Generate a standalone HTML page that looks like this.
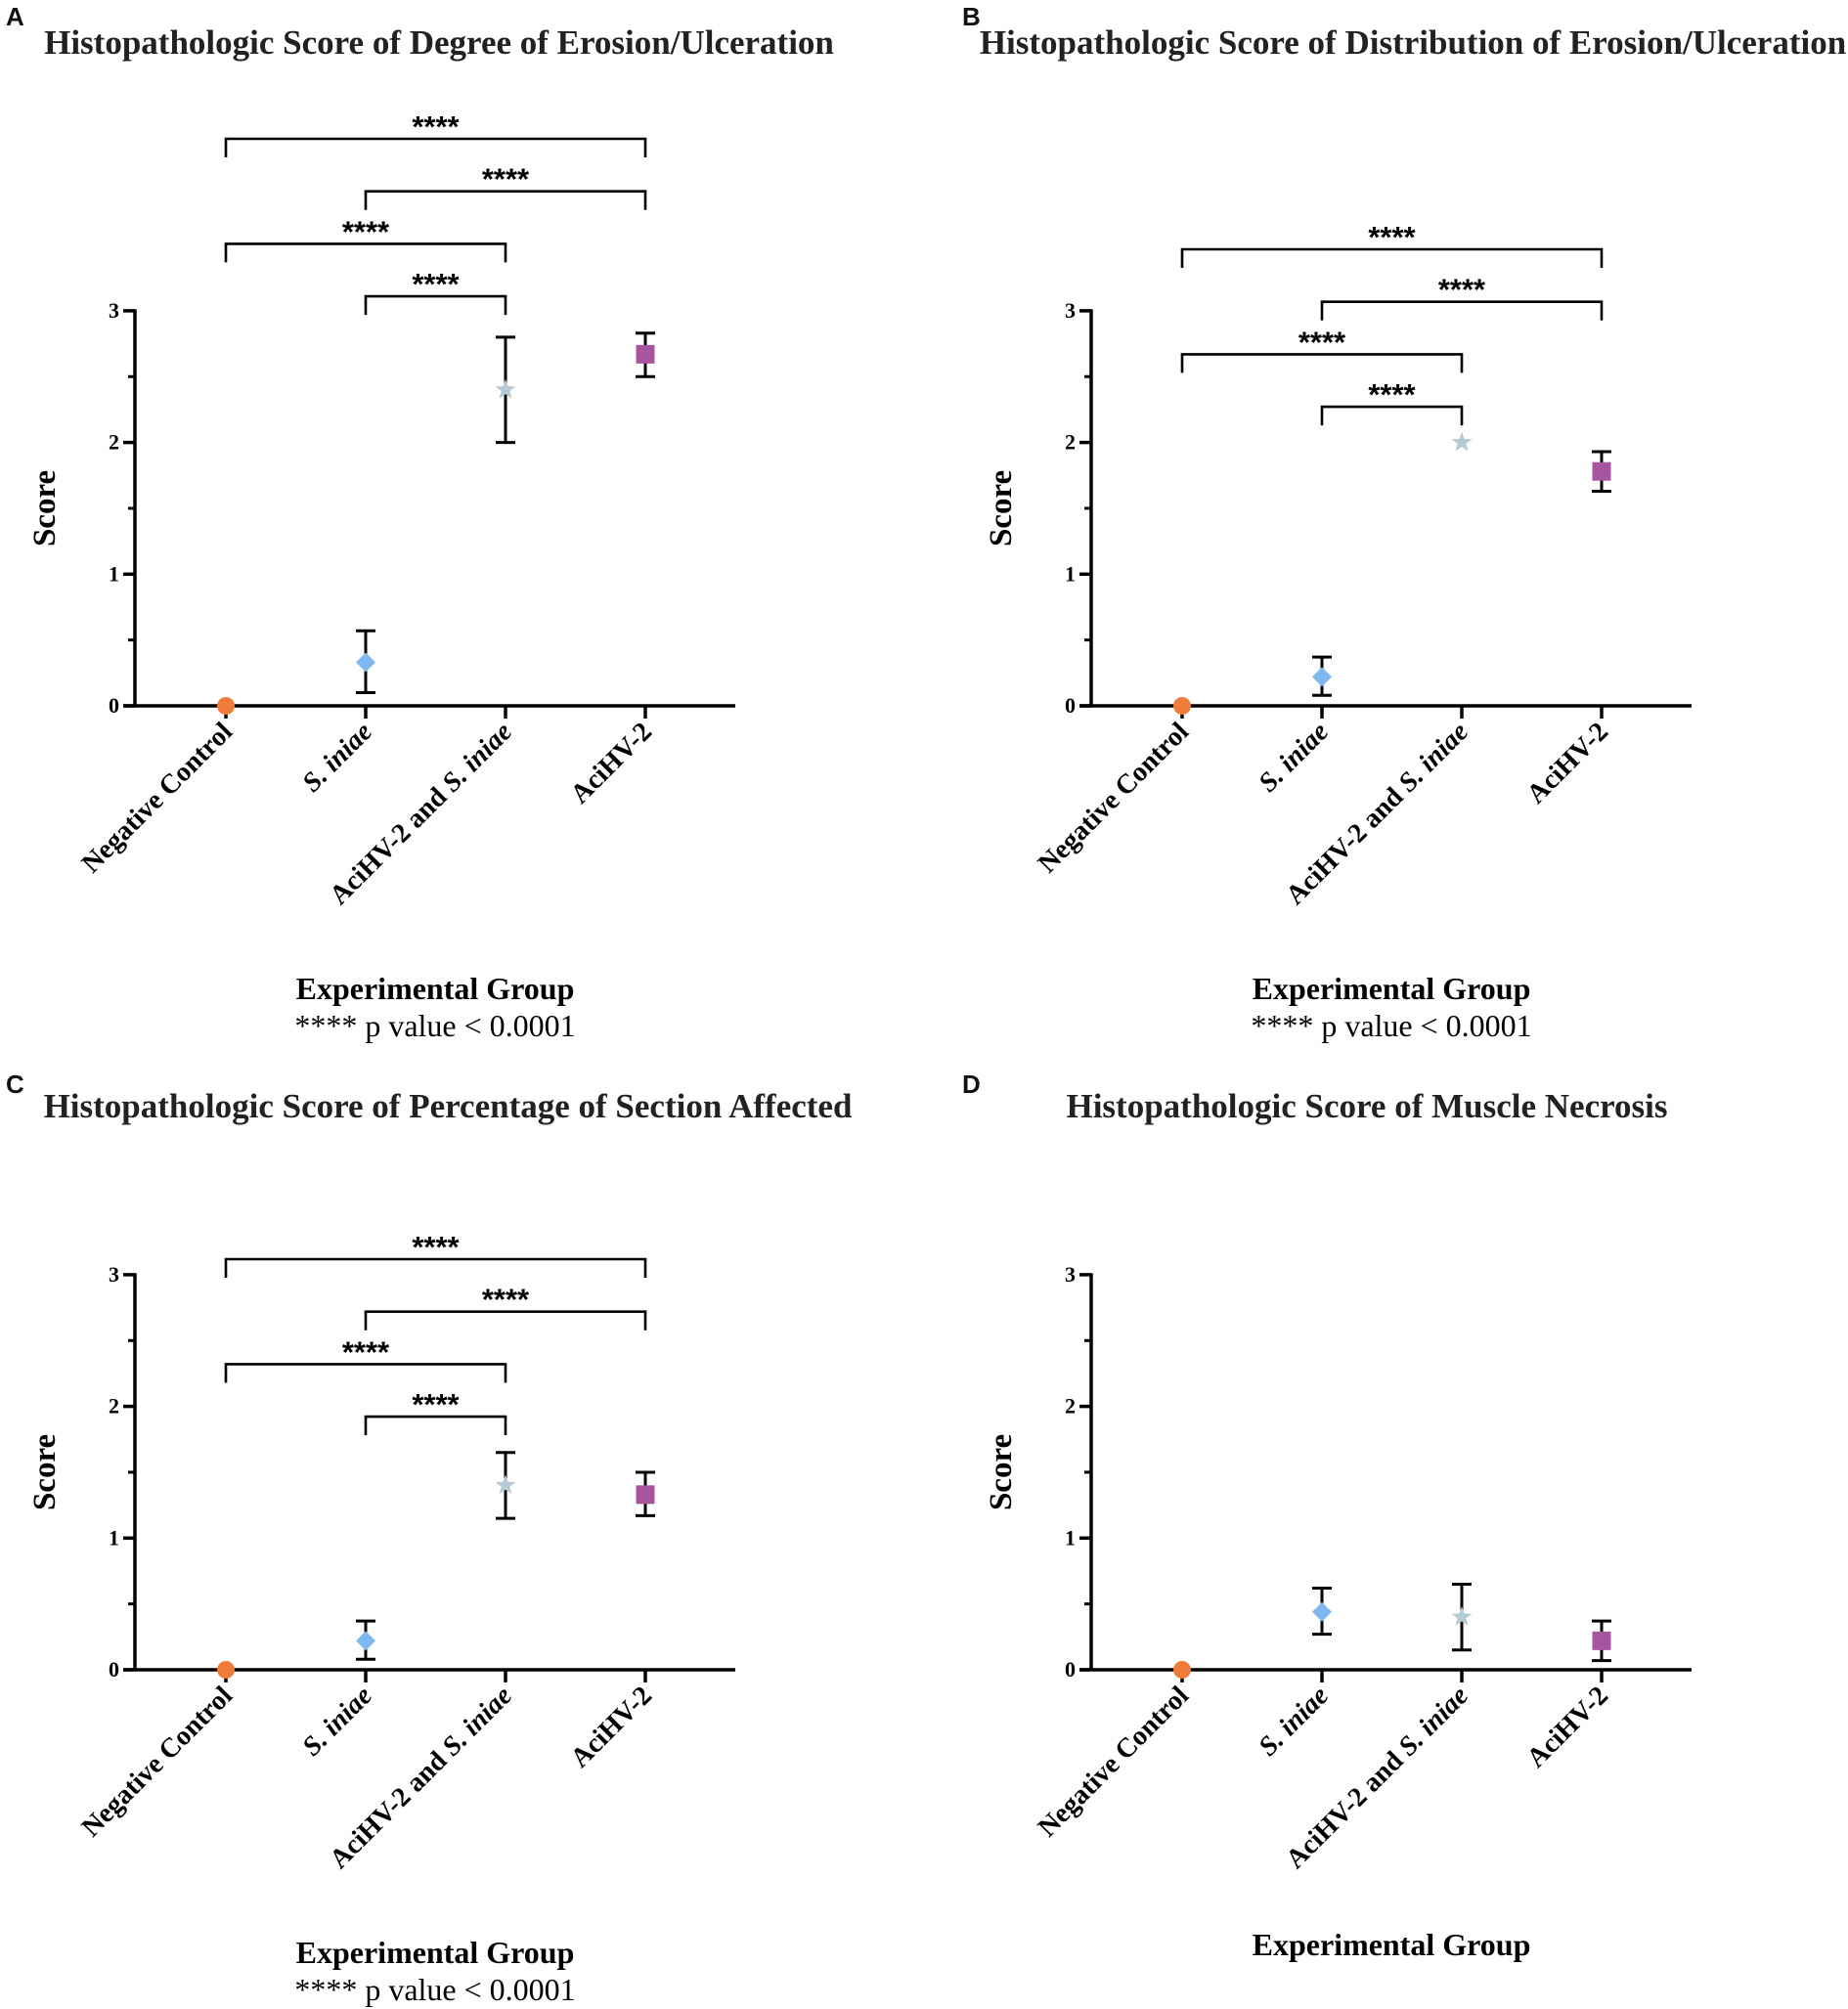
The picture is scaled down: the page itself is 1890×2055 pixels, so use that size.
<!DOCTYPE html>
<html><head><meta charset="utf-8"><style>
html,body{margin:0;padding:0;background:#fff;}
svg{display:block;font-family:"Liberation Serif",serif;}
</style></head><body>
<svg id="chart" width="1890" height="2055" viewBox="0 0 1890 2055" xmlns="http://www.w3.org/2000/svg"></svg>
<script>
const categories = ["Negative Control", "S. iniae", "AciHV-2 and S. iniae", "AciHV-2"];
const yTicks = [0, 1, 2, 3];
const panelTitles = [
  "Histopathologic Score of Degree of Erosion/Ulceration",
  "Histopathologic Score of Distribution of Erosion/Ulceration",
  "Histopathologic Score of Percentage of Section Affected",
  "Histopathologic Score of Muscle Necrosis"
];
const panelLetters = ["A", "B", "C", "D"];
const meansA = [0, 0.33, 2.4, 2.67];
const lowA = [0, 0.1, 2.0, 2.5];
const highA = [0, 0.57, 2.8, 2.83];
const meansB = [0, 0.22, 2.0, 1.78];
const lowB = [0, 0.08, 2.0, 1.63];
const highB = [0, 0.37, 2.0, 1.93];
const meansC = [0, 0.22, 1.4, 1.33];
const lowC = [0, 0.08, 1.15, 1.17];
const highC = [0, 0.37, 1.65, 1.5];
const meansD = [0, 0.44, 0.4, 0.22];
const lowD = [0, 0.27, 0.15, 0.07];
const highD = [0, 0.62, 0.65, 0.37];
const comparisons = [[0, 3], [1, 3], [0, 2], [1, 2]];
const sigLabel = "****";

const NS = "http://www.w3.org/2000/svg";
const svg = document.getElementById('chart');
function mk(tag, attrs, parent) {
  const e = document.createElementNS(NS, tag);
  for (const k in attrs) e.setAttribute(k, attrs[k]);
  (parent || svg).appendChild(e);
  return e;
}
const colors = ["#f07c3a", "#7db8f0", "#b7c9d2", "#a855a0"];

const panels = [
  {ox: 0, oy: 0, means: meansA, low: lowA, high: highA, titleX: 449, titleY: 55, letterY: 26, bracketTop: 142, sig: true, pval: true},
  {ox: 978, oy: 0, means: meansB, low: lowB, high: highB, titleX: 1445, titleY: 55, letterY: 26, bracketTop: 255, sig: true, pval: true},
  {ox: 0, oy: 986, means: meansC, low: lowC, high: highC, titleX: 458, titleY: 1143, letterY: 1118, bracketTop: 1288, sig: true, pval: true},
  {ox: 978, oy: 986, means: meansD, low: lowD, high: highD, titleX: 1398, titleY: 1143, letterY: 1118, bracketTop: 0, sig: false, pval: false}
];

panels.forEach((p, pi) => {
  const g = mk('g', {});
  
  
  const axX = 138 + p.ox, y0 = 722 + p.oy, unit = 134.7, axEnd = 752 + p.ox;
  const xOf = i => 231 + p.ox + i * 143;
  const yOf = v => y0 - v * unit;

  const L = mk('text', {x: 6 + p.ox, y: p.letterY, 'font-family': '"Liberation Sans",sans-serif', 'font-weight': 'bold', 'font-size': 26, fill: '#111'}, g);
  L.textContent = panelLetters[pi];
  
  

  const t = mk('text', {x: p.titleX, y: p.titleY, 'text-anchor': 'middle', 'font-weight': 'bold', 'font-size': 35, fill: '#222'}, g);
  t.textContent = panelTitles[pi];
  
  

  const ya = mk('line', {x1: axX, y1: yOf(3) - 1.5, x2: axX, y2: y0 + 1.5, stroke: '#000', 'stroke-width': 3.5}, g);
  
  
  const xa = mk('line', {x1: axX - 12, y1: y0, x2: axEnd, y2: y0, stroke: '#000', 'stroke-width': 3.5}, g);
  
  
  yTicks.forEach(v => {
    const tk = mk('line', {x1: axX - 12, y1: yOf(v), x2: axX, y2: yOf(v), stroke: '#000', 'stroke-width': 3.5}, g);
    
    
    const tl = mk('text', {x: axX - 16, y: yOf(v) + 7, 'text-anchor': 'end', 'font-weight': 'bold', 'font-size': 22}, g);
    tl.textContent = v;
    
    
    if (v < 3) {
      const mt = mk('line', {x1: axX - 7, y1: yOf(v + 0.5), x2: axX, y2: yOf(v + 0.5), stroke: '#000', 'stroke-width': 3}, g);
      
      
    }
  });
  const sl = mk('text', {x: 0, y: 0, 'text-anchor': 'middle', 'font-weight': 'bold', 'font-size': 33, transform: `translate(${56 + p.ox},${yOf(1.5)}) rotate(-90)`}, g);
  sl.textContent = 'Score';
  
  

  categories.forEach((c, i) => {
    const cx = xOf(i);
    const tk = mk('line', {x1: cx, y1: y0, x2: cx, y2: y0 + 13, stroke: '#000', 'stroke-width': 3.5}, g);
    
    
    const tl = mk('text', {x: 0, y: 0, 'text-anchor': 'end', 'font-weight': 'bold', 'font-size': 28, transform: `translate(${cx + 8},${y0 + 28}) rotate(-45)`}, g);
    
    
    const parts = c.split('S. iniae');
    if (parts.length > 1) {
      if (parts[0]) { const s = mk('tspan', {}, tl); s.textContent = parts[0]; }
      const s2 = mk('tspan', {'font-style': 'italic'}, tl); s2.textContent = 'S. iniae';
    } else tl.textContent = c;
  });

  const xt = mk('text', {x: 445 + p.ox, y: p.pval ? 1022 + p.oy : 1014 + p.oy, 'text-anchor': 'middle', 'font-weight': 'bold', 'font-size': 32}, g);
  xt.textContent = 'Experimental Group';
  
  
  if (p.pval) {
    const pv = mk('text', {x: 445 + p.ox, y: 1060 + p.oy, 'text-anchor': 'middle', 'font-size': 32}, g);
    pv.textContent = '**** p value < 0.0001';
    
    
  }

  if (p.sig) {
    comparisons.forEach((cmp, k) => {
      const by = p.bracketTop + k * 53.7;
      const x1 = xOf(cmp[0]), x2 = xOf(cmp[1]);
      const br = mk('path', {d: `M${x1},${by + 19} V${by} H${x2} V${by + 19}`, fill: 'none', stroke: '#000', 'stroke-width': 2.6}, g);
      
      
      const st = mk('text', {x: (x1 + x2) / 2, y: by - 2, 'text-anchor': 'middle', 'font-family': '"Liberation Sans",sans-serif', 'font-weight': 'bold', 'font-size': 31}, g);
      st.textContent = sigLabel;
      
      
    });
  }

  p.means.forEach((m, i) => {
    const cx = xOf(i);
    if (p.high[i] !== p.low[i]) {
      const eb = mk('path', {d: `M${cx},${yOf(p.high[i])} V${yOf(p.low[i])} M${cx - 10},${yOf(p.high[i])} H${cx + 10} M${cx - 10},${yOf(p.low[i])} H${cx + 10}`, fill: 'none', stroke: '#000', 'stroke-width': 3}, g);
      
      
    }
    const cy = yOf(m);
    let mkEl;
    if (i === 0) mkEl = mk('circle', {cx: cx, cy: cy, r: 9, fill: colors[0]}, g);
    else if (i === 1) mkEl = mk('polygon', {points: `${cx},${cy - 10} ${cx + 10},${cy} ${cx},${cy + 10} ${cx - 10},${cy}`, fill: colors[1]}, g);
    else if (i === 2) {
      let pts = [];
      for (let k = 0; k < 10; k++) {
        const r = k % 2 ? 4.5 : 11, a = -Math.PI / 2 + k * Math.PI / 5;
        pts.push((cx + r * Math.cos(a)).toFixed(1) + ',' + (cy + r * Math.sin(a)).toFixed(1));
      }
      mkEl = mk('polygon', {points: pts.join(' '), fill: colors[2]}, g);
    } else mkEl = mk('rect', {x: cx - 9.5, y: cy - 9.5, width: 19, height: 19, fill: colors[3]}, g);
    
    
  });
});
</script>
</body></html>
